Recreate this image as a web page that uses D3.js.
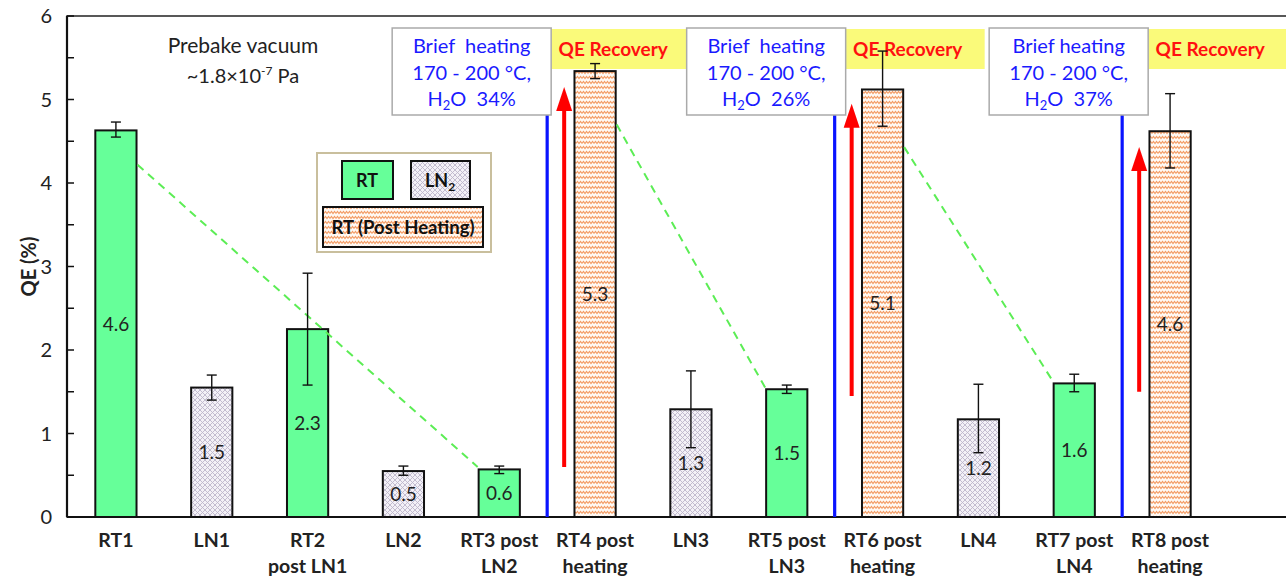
<!DOCTYPE html>
<html>
<head>
<meta charset="utf-8">
<script src="https://cdn.jsdelivr.net/npm/d3@7"></script>
<style>
  body { margin: 0; background: #fff; }
  svg { font-family: Lato, "Open Sans", sans-serif; }
  text { white-space: pre; }
</style>
</head>
<body>
<div id="chart"></div>
<script>
// chart data
const categories = ['RT1', 'LN1', 'RT2', 'LN2', 'RT3', 'RT4', 'LN3', 'RT5', 'RT6', 'LN4', 'RT7', 'RT8'];
const tickLabels = [
  ['RT1'], ['LN1'], ['RT2', 'post LN1'], ['LN2'], ['RT3 post', 'LN2'], ['RT4 post', 'heating'],
  ['LN3'], ['RT5 post', 'LN3'], ['RT6 post', 'heating'], ['LN4'], ['RT7 post', 'LN4'], ['RT8 post', 'heating']
];
const kinds = ['rt', 'ln', 'rt', 'ln', 'rt', 'heat', 'ln', 'rt', 'heat', 'ln', 'rt', 'heat'];
const qe = [4.63, 1.55, 2.25, 0.55, 0.57, 5.34, 1.29, 1.53, 5.12, 1.17, 1.6, 4.62];
const errLow = [4.55, 1.4, 1.58, 0.5, 0.52, 5.25, 0.83, 1.48, 4.68, 0.77, 1.5, 4.18];
const errHigh = [4.73, 1.7, 2.92, 0.61, 0.61, 5.43, 1.75, 1.58, 5.58, 1.59, 1.71, 5.07];
const valueLabels = ['4.6', '1.5', '2.3', '0.5', '0.6', '5.3', '1.3', '1.5', '5.1', '1.2', '1.6', '4.6'];

// heating steps: placed before these categories
const heatAt = ['RT4', 'RT6', 'RT8'];
const heatFirstLine = ['Brief  heating', 'Brief  heating', 'Brief heating'];
const waterPct = ['34%', '26%', '37%'];
const arrowFrom = [0.6, 1.45, 1.5];
const arrowTo = [5.15, 4.95, 4.43];

// dashed decay guides [from cat, from value, to cat, to value]
const decay = [
  ['RT1', 4.22, 'RT3', 0.6],
  ['RT4', 4.7, 'RT5', 1.55],
  ['RT6', 4.43, 'RT7', 1.63]
];

const W = 1286, H = 577;
const margin = { top: 16, left: 67, bottom: 60 };
const plotBottom = H - margin.bottom;

const svg = d3.select('#chart').append('svg')
  .attr('width', W).attr('height', H);

const defs = svg.append('defs');
// LN2 crosshatch
const ln = defs.append('pattern').attr('id', 'lnPat')
  .attr('patternUnits', 'userSpaceOnUse').attr('width', 5).attr('height', 5);
ln.append('rect').attr('width', 5).attr('height', 5).attr('fill', '#f3f1f7');
ln.append('path').attr('d', 'M0,0 L5,5 M5,0 L0,5')
  .attr('stroke', '#bdb6cc').attr('stroke-width', 0.9);
// post-heating zigzag
const hp = defs.append('pattern').attr('id', 'heatPat')
  .attr('patternUnits', 'userSpaceOnUse').attr('width', 6).attr('height', 5);
hp.append('rect').attr('width', 6).attr('height', 5).attr('fill', '#fffaf5');
hp.append('path').attr('d', 'M0,3.5 L1.5,1.5 L3,3.5 L4.5,1.5 L6,3.5')
  .attr('fill', 'none').attr('stroke', '#f39a62').attr('stroke-width', 1.1);

const fills = { rt: '#66ff99', ln: 'url(#lnPat)', heat: 'url(#heatPat)' };

const x = d3.scaleBand().domain(categories)
  .range([68, 1218]).paddingInner(0.57).paddingOuter(0.285);
const y = d3.scaleLinear().domain([0, 6]).range([plotBottom, margin.top]);
const cx = c => x(c) + x.bandwidth() / 2;
const boundary = c => cx(c) - x.step() / 2;

// plot frame
svg.append('rect')
  .attr('x', margin.left).attr('y', margin.top)
  .attr('width', W).attr('height', plotBottom - margin.top)
  .attr('fill', 'none').attr('stroke', '#222').attr('stroke-width', 1.5);
svg.append('line')
  .attr('x1', margin.left).attr('x2', W)
  .attr('y1', plotBottom).attr('y2', plotBottom)
  .attr('stroke', '#111').attr('stroke-width', 2.2);
svg.append('line')
  .attr('x1', margin.left).attr('x2', margin.left)
  .attr('y1', margin.top).attr('y2', plotBottom)
  .attr('stroke', '#111').attr('stroke-width', 2.2);

// y axis ticks (inside)
const yTicks = d3.range(0, 6.01, 0.5);
svg.append('g').selectAll('line').data(yTicks).join('line')
  .attr('x1', margin.left).attr('x2', margin.left + 7)
  .attr('y1', d => y(d)).attr('y2', d => y(d))
  .attr('stroke', '#111').attr('stroke-width', 1.5);
svg.append('g').selectAll('text').data(d3.range(0, 7)).join('text')
  .attr('x', 52).attr('y', d => y(d) + 7)
  .attr('text-anchor', 'end')
  .style('font-size', '20px').attr('fill', '#222')
  .text(d => d);
svg.append('text')
  .attr('transform', `translate(36,${(margin.top + plotBottom) / 2}) rotate(-90)`)
  .attr('text-anchor', 'middle')
  .style('font-size', '20px').style('font-weight', 'bold').attr('fill', '#222')
  .text('QE (%)');

// x tick labels
const xl = svg.append('g').selectAll('text').data(categories).join('text')
  .attr('x', d => cx(d)).attr('y', 547)
  .attr('text-anchor', 'middle')
  .style('font-size', '19.5px').style('font-weight', 'bold').attr('fill', '#222');
xl.selectAll('tspan').data((d, i) => tickLabels[i]).join('tspan')
  .attr('x', function () { return this.parentNode.getAttribute('x'); })
  .attr('dy', (d, i) => i === 0 ? 0 : 26)
  .text(d => d);

// bars
svg.append('g').selectAll('rect').data(categories).join('rect')
  .attr('x', d => x(d)).attr('width', x.bandwidth())
  .attr('y', (d, i) => y(qe[i])).attr('height', (d, i) => plotBottom - y(qe[i]))
  .attr('fill', (d, i) => fills[kinds[i]])
  .attr('stroke', '#111').attr('stroke-width', 2);

// value labels
svg.append('g').selectAll('text').data(categories).join('text')
  .attr('x', d => cx(d)).attr('y', (d, i) => y(qe[i] / 2) + 7)
  .attr('text-anchor', 'middle')
  .style('font-size', '19px').attr('fill', '#222')
  .text((d, i) => valueLabels[i]);

// dashed decay guides
svg.append('g').selectAll('line').data(decay).join('line')
  .attr('x1', d => x(d[0]) + x.bandwidth() + 1).attr('y1', d => y(d[1]))
  .attr('x2', d => x(d[2]) - 1).attr('y2', d => y(d[3]))
  .attr('stroke', '#5ced55').attr('stroke-width', 2)
  .attr('stroke-dasharray', '8,6');

// annotation boxes, recovery labels, blue markers and arrows
const boxW = 159, boxTop = 28, boxBottom = 115;
const boxShift = [4, 11, 26];
heatAt.forEach((c, k) => {
  const b = boundary(c);
  const right = b + boxShift[k];
  svg.append('rect')
    .attr('x', right).attr('y', boxTop + 1)
    .attr('width', 139).attr('height', 40)
    .attr('fill', '#fafa7a');
  svg.append('text')
    .attr('x', right + 62).attr('y', boxTop + 28)
    .attr('text-anchor', 'middle')
    .style('font-size', '19px').style('font-weight', 'bold').attr('fill', '#ff1010')
    .text('QE Recovery');
  svg.append('line')
    .attr('x1', b).attr('x2', b).attr('y1', plotBottom).attr('y2', boxBottom)
    .attr('stroke', '#0a14ff').attr('stroke-width', 3.2);
  const box = svg.append('g');
  box.append('rect')
    .attr('x', right - boxW).attr('y', boxTop)
    .attr('width', boxW).attr('height', boxBottom - boxTop)
    .attr('fill', '#fff').attr('stroke', '#aaa').attr('stroke-width', 1.5);
  const tx = right - boxW / 2;
  box.append('text').attr('x', tx).attr('y', boxTop + 25)
    .attr('text-anchor', 'middle').style('font-size', '20px').attr('fill', '#1a1aff')
    .text(heatFirstLine[k]);
  box.append('text').attr('x', tx).attr('y', boxTop + 52)
    .attr('text-anchor', 'middle').style('font-size', '20px').attr('fill', '#1a1aff')
    .text('170 - 200 °C,');
  const t3 = box.append('text').attr('x', tx).attr('y', boxTop + 78)
    .attr('text-anchor', 'middle').style('font-size', '20px').attr('fill', '#1a1aff');
  t3.append('tspan').text('H');
  t3.append('tspan').attr('dy', 4).style('font-size', '13px').text('2');
  t3.append('tspan').attr('dy', -4).text('O  ' + waterPct[k]);

  const ax = b + 17;
  svg.append('line')
    .attr('x1', ax).attr('x2', ax)
    .attr('y1', y(arrowFrom[k])).attr('y2', y(arrowTo[k]) + 20)
    .attr('stroke', '#ff0000').attr('stroke-width', 4);
  svg.append('path')
    .attr('d', `M${ax},${y(arrowTo[k])} L${ax - 8},${y(arrowTo[k]) + 24} L${ax + 8},${y(arrowTo[k]) + 24} Z`)
    .attr('fill', '#ff0000');
});

// error bars
const eb = svg.append('g').attr('stroke', '#111').attr('stroke-width', 1.4);
categories.forEach((c, i) => {
  const m = cx(c);
  eb.append('line').attr('x1', m).attr('x2', m).attr('y1', y(errLow[i])).attr('y2', y(errHigh[i]));
  eb.append('line').attr('x1', m - 5).attr('x2', m + 5).attr('y1', y(errLow[i])).attr('y2', y(errLow[i]));
  eb.append('line').attr('x1', m - 5).attr('x2', m + 5).attr('y1', y(errHigh[i])).attr('y2', y(errHigh[i]));
});

// prebake note
svg.append('text').attr('x', 243).attr('y', 53)
  .attr('text-anchor', 'middle').style('font-size', '21px').attr('fill', '#222')
  .text('Prebake vacuum');
const pv = svg.append('text').attr('x', 243).attr('y', 83)
  .attr('text-anchor', 'middle').style('font-size', '20px').attr('fill', '#222');
pv.append('tspan').text('~1.8×10');
pv.append('tspan').attr('dy', -8).style('font-size', '12px').text('-7');
pv.append('tspan').attr('dy', 8).text(' Pa');

// legend
const lg = svg.append('g');
lg.append('rect').attr('x', 317).attr('y', 153).attr('width', 174).attr('height', 99)
  .attr('fill', '#fff').attr('stroke', '#c9bf9d').attr('stroke-width', 2);
const legendItems = [
  { kind: 'rt', x: 342, y: 161, w: 51, h: 38 },
  { kind: 'ln', x: 411, y: 161, w: 59, h: 38 },
  { kind: 'heat', x: 323, y: 207, w: 160, h: 40 }
];
legendItems.forEach(d => {
  lg.append('rect').attr('x', d.x).attr('y', d.y).attr('width', d.w).attr('height', d.h)
    .attr('fill', fills[d.kind]).attr('stroke', '#111').attr('stroke-width', 2);
});
lg.append('text').attr('x', 367).attr('y', 187).attr('text-anchor', 'middle')
  .style('font-size', '18px').style('font-weight', 'bold').attr('fill', '#111').text('RT');
const lnT = lg.append('text').attr('x', 440).attr('y', 187).attr('text-anchor', 'middle')
  .style('font-size', '18px').style('font-weight', 'bold').attr('fill', '#111');
lnT.append('tspan').text('LN');
lnT.append('tspan').attr('dy', 4).style('font-size', '12px').text('2');
lg.append('text').attr('x', 403).attr('y', 234).attr('text-anchor', 'middle')
  .style('font-size', '18.5px').style('font-weight', 'bold').attr('fill', '#111').text('RT (Post Heating)');
</script>
</body>
</html>
